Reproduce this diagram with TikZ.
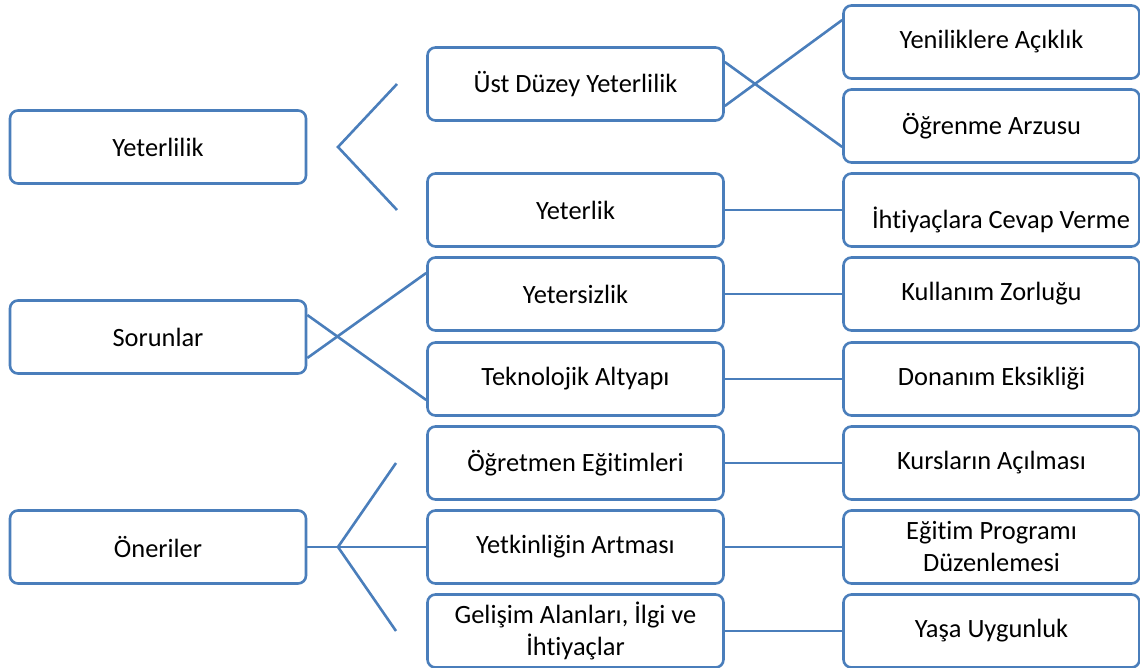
\documentclass[tikz,border=0pt]{standalone}
\usepackage{fontspec}
\setmainfont{Carlito}[Ligatures=NoCommon]
\definecolor{boxblue}{RGB}{74,126,187}
\begin{document}
\begin{tikzpicture}[x=1pt,y=-1pt,
  box/.style={draw=boxblue,line width=2.6pt,rounded corners=8pt,minimum width=296pt,minimum height=73pt,inner sep=0pt,align=center,font=\fontsize{26.4}{32}\selectfont,text=black},
  conn/.style={draw=boxblue,line width=2.6pt}]
\useasboundingbox (0,0) rectangle (1140,668);
% left column
\node[box] (yet) at (158,147) {Yeterlilik};
\node[box] (sor) at (158,337) {Sorunlar};
\node[box] (one) at (158,547) {Öneriler};
% middle column
\node[box] (ust) at (575.5,84) {Üst Düzey Yeterlilik};
\node[box] (yetk) at (575.5,210) {Yeterlik};
\node[box] (yets) at (575.5,294) {Yetersizlik};
\node[box] (tek) at (575.5,379) {Teknolojik Altyapı};
\node[box] (ogrt) at (575.5,463) {Öğretmen Eğitimleri};
\node[box] (art) at (575.5,547) {Yetkinliğin Artması};
\node[box] (gel) at (575.5,631) {Gelişim Alanları, İlgi ve\\İhtiyaçlar};
% right column
\node[box] (yen) at (991.5,42) {Yeniliklere Açıklık};
\node[box] (arz) at (991.5,126) {Öğrenme Arzusu};
\node[box] (iht) at (991.5,210) {};
\node[font=\fontsize{26.4}{32}\selectfont,inner sep=0pt] (ihttext) at (1001,220) {İhtiyaçlara Cevap Verme};
\node[box] (kul) at (991.5,294) {Kullanım Zorluğu};
\node[box] (don) at (991.5,379) {Donanım Eksikliği};
\node[box] (kur) at (991.5,463) {Kursların Açılması};
\node[box] (egp) at (991.5,547) {Eğitim Programı\\Düzenlemesi};
\node[box] (yas) at (991.5,631) {Yaşa Uygunluk};
% free-end coordinates
\coordinate (t1) at (338,147);
\coordinate (t1a) at (397,84);
\coordinate (t1b) at (397,210);
\coordinate (t3) at (338,547);
\coordinate (t3a) at (396,463);
\coordinate (t3b) at (396,631);
% connectors
\draw[conn] (t1a) -- (t1) -- (t1b);
\draw[conn] ([yshift=22pt]ust.east) -- ([yshift=-21pt]arz.west);
\draw[conn] ([yshift=-22pt]ust.east) -- ([yshift=22pt]yen.west);
\draw[conn] (yetk.east) -- (iht.west);
\draw[conn] ([yshift=22pt]sor.east) -- ([yshift=-21pt]tek.west);
\draw[conn] ([yshift=-21pt]sor.east) -- ([yshift=21pt]yets.west);
\draw[conn] (yets.east) -- (kul.west);
\draw[conn] (tek.east) -- (don.west);
\draw[conn] (ogrt.east) -- (kur.west);
\draw[conn] (art.east) -- (egp.west);
\draw[conn] (gel.east) -- (yas.west);
\draw[conn] (one.east) -- (art.west);
\draw[conn] (t3a) -- (t3) -- (t3b);
\end{tikzpicture}
\end{document}
